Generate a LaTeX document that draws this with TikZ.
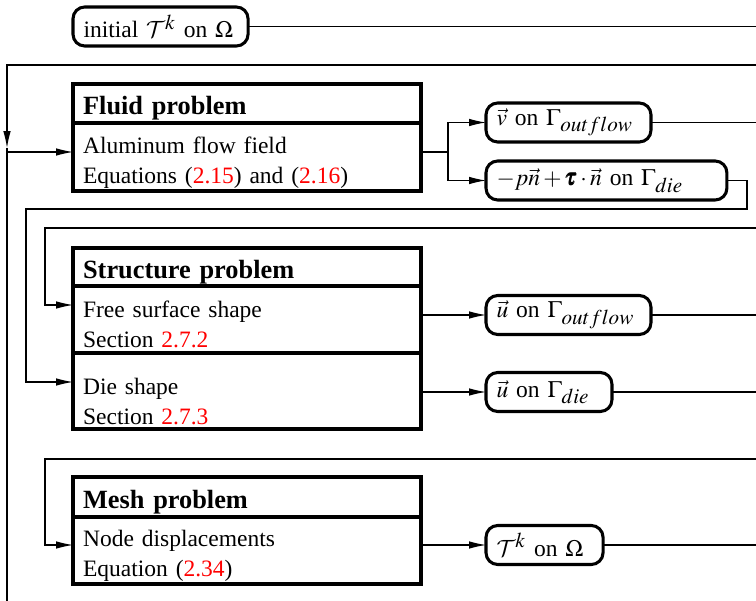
\documentclass[tikz,border=0pt]{standalone}
\usepackage{amsmath}
\usepackage{mathptmx}
\usepackage[no-math]{fontspec}
\setmainfont{Liberation Serif}
\DeclareMathAlphabet{\mathcal}{OMS}{cmsy}{m}{n}
\DeclareMathSizes{10}{10}{9}{7}
\usetikzlibrary{arrows.meta,positioning}
\newcommand{\refnum}[1]{\textcolor{red}{#1}}
\newcommand{\topgap}[1]{\rule{0pt}{#1}}
\tikzset{
  titlebox/.style={draw,line width=1.4pt,outer sep=0pt,inner xsep=4.3pt,inner ysep=2pt,text width=139.5pt,align=left,minimum height=16.6pt,text height=9.4pt,text depth=0pt,font=\fontsize{11.2}{13}\selectfont\bfseries},
  bodybox/.style={draw,line width=1.4pt,outer sep=0pt,inner xsep=4.3pt,inner ysep=0pt,text width=139.5pt,align=left,font=\fontsize{10}{12.8}\selectfont},
  outbox/.style={draw,line width=1.3pt,rounded corners=5pt,outer sep=0pt,inner xsep=4.5pt,inner ysep=2pt,align=left,minimum height=16.6pt,anchor=west},
  conn/.style={draw,line width=0.45pt},
  feed/.style={conn,-{Latex[length=7.2pt,width=3.2pt]}}
}
\begin{document}
\begin{tikzpicture}[x=0.4255pt,y=-0.4255pt]
  \useasboundingbox (0,0) rectangle (756,601);
  % problem boxes
  \node[titlebox,anchor=north west] (ftitle) at (73,84) {Fluid problem};
  \node[bodybox,minimum height=28.9pt,below=0pt of ftitle] (fbody) {\topgap{11.6pt}Aluminum flow field\\Equations (\refnum{2.15}) and (\refnum{2.16})};
  \node[titlebox,minimum height=16.2pt,anchor=north west] (stitle) at (73,248) {Structure problem};
  \node[bodybox,minimum height=28.5pt,below=0pt of stitle] (sfree) {\topgap{11.4pt}Free surface shape\\Section \refnum{2.7.2}};
  \node[bodybox,minimum height=32.3pt,below=0pt of sfree] (sdie) {\topgap{15.6pt}Die shape\\Section \refnum{2.7.3}};
  \node[titlebox,minimum height=17pt,anchor=north west] (mtitle) at (73,477) {Mesh problem};
  \node[bodybox,minimum height=28.5pt,below=0pt of mtitle] (mbody) {\topgap{11.6pt}Node displacements\\Equation (\refnum{2.34})};
  % data boxes
  \node[outbox,text width=65.5pt] (init) at (73,26.5) {initial $\mathcal{T}^k$ on $\Omega$};
  \node[outbox,text width=61.2pt] (vout) at (486,122.5) {$\vec{v}$ on $\Gamma_{outflow}$};
  \node[outbox,text width=93.5pt] (pnout) at (486,180.5) {$-p\vec{n}+\pmb{\tau}\cdot\vec{n}$ on $\Gamma_{die}$};
  \node[outbox,text width=61.2pt] (uout) at (486,315) {$\vec{u}$ on $\Gamma_{outflow}$};
  \node[outbox,text width=44.6pt] (udie) at (486,392) {$\vec{u}$ on $\Gamma_{die}$};
  \node[outbox,text width=40.8pt] (tkout) at (486,545) {$\mathcal{T}^k$ on $\Omega$};
  % corners of the feedback lines
  \coordinate (redge) at (756,0);
  \coordinate (loop1) at (7,65);
  \coordinate (down1) at (7,148);
  \coordinate (foot) at (7,601);
  \coordinate (in1) at (7,152);
  \coordinate (fork) at (448,152);
  \coordinate (back1) at (747,209);
  \coordinate (back2) at (26,209);
  \coordinate (in2) at (26,382);
  \coordinate (loop2) at (45,228);
  \coordinate (in3) at (45,305);
  \coordinate (loop3) at (45,459);
  \coordinate (in4) at (45,545);
  % connectors
  \draw[conn] (init.east) -- (init.east -| redge);
  \draw[feed] (redge |- loop1) -- (loop1) -- (down1);
  \draw[conn] (down1) -- (foot);
  \draw[feed] (in1) -- (in1 -| fbody.west);
  \draw[conn] (fork -| fbody.east) -- (fork);
  \draw[feed] (fork) |- (vout.west);
  \draw[feed] (fork) |- (pnout.west);
  \draw[conn] (vout.east) -- (vout.east -| redge);
  \draw[feed] (pnout.east) -| (back1) -- (back2) -- (in2) -- (in2 -| sdie.west);
  \draw[feed] (redge |- loop2) -- (loop2) -- (in3) -- (in3 -| sfree.west);
  \draw[feed] (sfree.east |- uout.west) -- (uout.west);
  \draw[conn] (uout.east) -- (uout.east -| redge);
  \draw[feed] (sdie.east |- udie.west) -- (udie.west);
  \draw[conn] (udie.east) -- (udie.east -| redge);
  \draw[feed] (redge |- loop3) -- (loop3) -- (in4) -- (in4 -| mbody.west);
  \draw[feed] (mbody.east |- tkout.west) -- (tkout.west);
  \draw[conn] (tkout.east) -- (tkout.east -| redge);
\end{tikzpicture}
\end{document}
